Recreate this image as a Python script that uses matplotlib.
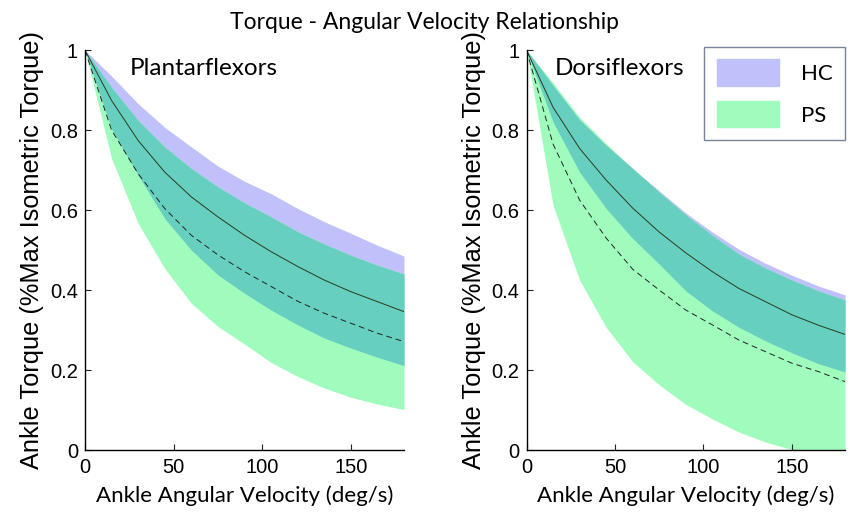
import numpy as np
import matplotlib.pyplot as plt
import matplotlib.patches as mpatches

plt.rcParams['font.family'] = ['Liberation Sans', 'DejaVu Sans']

# angular velocity (deg/s), sampled every 15 deg/s
velocity = [0, 15, 30, 45, 60, 75, 90, 105, 120, 135, 150, 165, 180]

# Plantarflexors
pf_hc_mean = [1, 0.874, 0.774, 0.695, 0.633, 0.583, 0.537, 0.496, 0.459, 0.425, 0.396, 0.371, 0.346]
pf_hc_upper = [1, 0.935, 0.866, 0.807, 0.758, 0.710, 0.672, 0.641, 0.604, 0.571, 0.542, 0.512, 0.485]
pf_hc_lower = [1, 0.803, 0.687, 0.579, 0.500, 0.438, 0.392, 0.350, 0.313, 0.280, 0.255, 0.232, 0.211]
pf_ps_mean = [1, 0.800, 0.691, 0.604, 0.537, 0.488, 0.446, 0.409, 0.372, 0.342, 0.317, 0.292, 0.271]
pf_ps_upper = [1, 0.907, 0.824, 0.758, 0.704, 0.658, 0.618, 0.583, 0.546, 0.515, 0.487, 0.462, 0.440]
pf_ps_lower = [1, 0.729, 0.567, 0.454, 0.367, 0.309, 0.265, 0.219, 0.184, 0.155, 0.132, 0.115, 0.101]

# Dorsiflexors
df_hc_mean = [1, 0.857, 0.754, 0.675, 0.605, 0.545, 0.493, 0.446, 0.404, 0.371, 0.338, 0.312, 0.289]
df_hc_upper = [1, 0.912, 0.826, 0.762, 0.704, 0.648, 0.593, 0.545, 0.502, 0.467, 0.437, 0.410, 0.388]
df_hc_lower = [1, 0.820, 0.695, 0.604, 0.529, 0.465, 0.398, 0.348, 0.307, 0.273, 0.243, 0.216, 0.195]
df_ps_mean = [1, 0.765, 0.625, 0.530, 0.452, 0.400, 0.350, 0.313, 0.275, 0.246, 0.217, 0.196, 0.171]
df_ps_upper = [1, 0.918, 0.832, 0.766, 0.704, 0.645, 0.588, 0.537, 0.490, 0.455, 0.425, 0.398, 0.375]
df_ps_lower = [1, 0.612, 0.425, 0.307, 0.221, 0.163, 0.114, 0.078, 0.045, 0.020, 0.001, -0.015, -0.030]

hc_color = '#c0c0fb'
ps_color = '#a0fcbd'
both_color = '#66cfc0'

calibri = ['Lato', 'DejaVu Sans']


def draw_panel(ax, name, name_x, hc, ps):
    x = np.array(velocity)
    hc_mean, hc_up, hc_lo = [np.array(a) for a in hc]
    ps_mean, ps_up, ps_lo = [np.array(a) for a in ps]
    ax.fill_between(x, hc_lo, hc_up, color=hc_color, lw=0)
    ax.fill_between(x, ps_lo, ps_up, color=ps_color, lw=0)
    # overlap of the two bands
    lo = np.maximum(hc_lo, ps_lo)
    up = np.minimum(hc_up, ps_up)
    ax.fill_between(x, lo, up, where=up >= lo, color=both_color, lw=0, interpolate=True)
    ax.plot(x, hc_mean, color='#2b3a1e', lw=0.7)
    ax.plot(x, ps_mean, color='#222222', lw=0.7, dashes=(6, 4))

    ax.set_xlim(0, 180)
    ax.set_ylim(0, 1)
    ax.set_xticks([0, 50, 100, 150])
    ax.set_yticks([0, 0.2, 0.4, 0.6, 0.8, 1])
    ax.set_yticklabels(['0', '0.2', '0.4', '0.6', '0.8', '1'])
    ax.tick_params(direction='in', length=4, width=0.8, labelsize=14.5, pad=5, color='#222222')
    ax.tick_params(axis='x', pad=6)
    ax.spines['top'].set_visible(False)
    ax.spines['right'].set_visible(False)
    ax.spines['left'].set_linewidth(1.0)
    ax.spines['bottom'].set_linewidth(1.0)
    ax.set_xlabel('Ankle Angular Velocity (deg/s)', family=calibri, fontsize=16, labelpad=6)
    ax.set_ylabel('Ankle Torque (%Max Isometric Torque)', fontsize=18.3, labelpad=4)
    ax.text(name_x, 0.955, name, transform=ax.transAxes, family=calibri, fontsize=17.5,
            va='center')


fig = plt.figure(figsize=(8.48, 5.14), dpi=100)
ax1 = fig.add_axes([0.1002, 0.1245, 0.3762, 0.778])
ax2 = fig.add_axes([0.6209, 0.1245, 0.3756, 0.778])

draw_panel(ax1, 'Plantarflexors', 0.14,
           (pf_hc_mean, pf_hc_upper, pf_hc_lower),
           (pf_ps_mean, pf_ps_upper, pf_ps_lower))
draw_panel(ax2, 'Dorsiflexors', 0.088,
           (df_hc_mean, df_hc_upper, df_hc_lower),
           (df_ps_mean, df_ps_upper, df_ps_lower))

hc_patch = mpatches.Patch(color=hc_color, label='HC')
ps_patch = mpatches.Patch(color=ps_color, label='PS')
leg = ax2.legend(handles=[hc_patch, ps_patch], loc='upper right', bbox_to_anchor=(1.0, 1.008),
                 prop={'family': calibri, 'size': 16}, frameon=True, fancybox=False,
                 handlelength=2.8, handleheight=1.45, handletextpad=1.0, labelspacing=0.7,
                 borderpad=0.55, borderaxespad=0)
leg.get_frame().set_edgecolor('#55657f')
leg.get_frame().set_linewidth(1.0)

fig.text(0.5, 0.957, 'Torque - Angular Velocity Relationship', ha='center', va='center',
         family=calibri, fontsize=16.5)

fig.savefig('out.png', dpi=100)
